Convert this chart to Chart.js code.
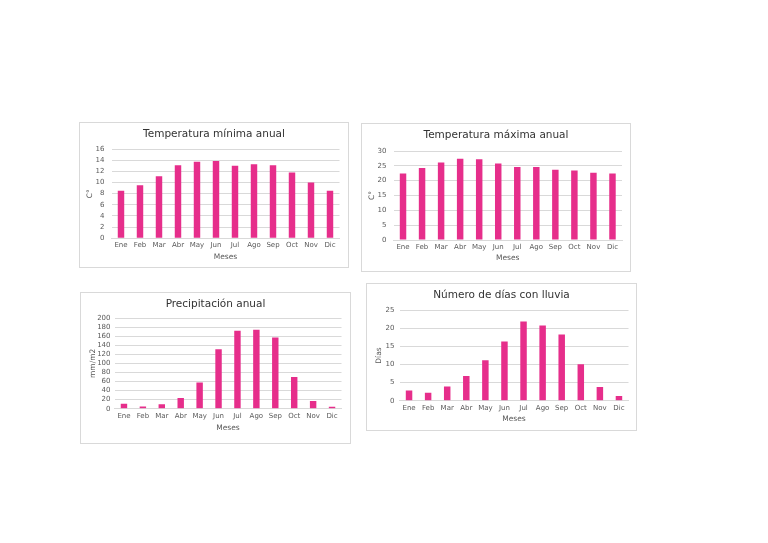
<!DOCTYPE html>
<html><head><meta charset="utf-8">
<script src="https://cdn.jsdelivr.net/npm/chart.js@4"></script>
<style>
html,body{margin:0;padding:0;background:#fff;width:768px;height:543px;overflow:hidden}
.box{position:absolute;border:1px solid #d9d9d9;background:#fff}
.box canvas{display:block}
</style></head><body>
<div class="box" id="b1"><canvas id="c1"></canvas></div>
<div class="box" id="b2"><canvas id="c2"></canvas></div>
<div class="box" id="b3"><canvas id="c3"></canvas></div>
<div class="box" id="b4"><canvas id="c4"></canvas></div>
<script>
// ---- data ----
const months = ['Ene','Feb','Mar','Abr','May','Jun','Jul','Ago','Sep','Oct','Nov','Dic'];
const tempMin = [8.5, 9.5, 11.1, 13.1, 13.7, 13.85, 13.0, 13.25, 13.1, 11.8, 10.0, 8.5];
const tempMax = [22.4, 24.3, 26.1, 27.4, 27.2, 25.8, 24.6, 24.6, 23.7, 23.4, 22.7, 22.4];
const precipitation = [11, 5, 10, 23.5, 58, 131, 172, 174, 157, 70, 17, 4.5];
const rainyDays = [2.8, 2.2, 3.9, 6.8, 11.2, 16.4, 21.9, 20.8, 18.3, 10.1, 3.8, 1.3];
const tempMinTicks = [0,2,4,6,8,10,12,14,16];
const tempMaxTicks = [0,5,10,15,20,25,30];
const precipTicks = [0,20,40,60,80,100,120,140,160,180,200];
const rainyTicks = [0,5,10,15,20,25];

// ---- styles ----
const FONT = '"DejaVu Sans", sans-serif';
const BAR = '#E62E8B';
const GRID = '#d9d9d9';
const TICK = '#595959';
const TITLE = '#333333';

function makeChart(cfg){
  const L = cfg.layout;
  const box = document.getElementById(cfg.box);
  Object.assign(box.style,{left:L.x+'px',top:L.y+'px',width:L.w+'px',height:L.h+'px'});
  const titleSize = 10.5, titleLH = 1.2;
  const tTop = L.titleCY - titleSize*titleLH/2;
  const tBottom = L.plotT - titleSize*titleLH - tTop;
  const axFont = 7.5, axLH = 1.2;
  const ticksArr = cfg.ticks;
  return new Chart(document.getElementById(cfg.canvas), {
    type:'bar',
    data:{labels:months, datasets:[{data:cfg.values, backgroundColor:BAR, borderWidth:0, barPercentage:0.34, categoryPercentage:1}]},
    options:{
      responsive:true, maintainAspectRatio:false, animation:false,
      layout:{padding:0},
      plugins:{
        legend:{display:false}, tooltip:{enabled:false},
        title:{display:true,text:cfg.title,color:TITLE,
          font:{family:FONT,size:titleSize,lineHeight:titleLH,weight:'normal'},
          padding:{top:tTop,bottom:tBottom}}
      },
      scales:{
        x:{
          grid:{display:false,drawTicks:false},
          border:{display:true,color:GRID},
          ticks:{color:TICK,font:{family:FONT,size:7},padding:3,maxRotation:0,autoSkip:false},
          title:{display:true,text:'Meses',color:TICK,
            font:{family:FONT,size:axFont,lineHeight:axLH},
            padding:{top:0,bottom:L.xTitleB - axFont*axLH/2}},
          afterFit:s=>{s.height=L.xH;}
        },
        y:{
          min:ticksArr[0], max:ticksArr[ticksArr.length-1],
          grid:{color:GRID,drawTicks:false},
          border:{display:false},
          afterBuildTicks:s=>{s.ticks = ticksArr.map(v=>({value:v}));},
          ticks:{autoSkip:false,stepSize:ticksArr[1]-ticksArr[0],color:TICK,font:{family:FONT,size:7},padding:L.tickPad},
          title:{display:true,text:cfg.yTitle,color:TICK,
            font:{family:FONT,size:axFont,lineHeight:axLH},
            padding:{top:L.yTitleCX - axFont*axLH/2,bottom:0}},
          afterFit:s=>{s.width=L.plotL;}
        },
        yRight:{
          position:'right', display:true,
          min:ticksArr[0], max:ticksArr[ticksArr.length-1],
          grid:{display:false,drawTicks:false},
          border:{display:false},
          ticks:{display:false},
          afterFit:s=>{s.width=L.padR;}
        }
      }
    }
  });
}

makeChart({box:'b1',canvas:'c1',title:'Temperatura mínima anual',yTitle:'C°',values:tempMin,ticks:tempMinTicks,
  layout:{x:79,y:122,w:268,h:144,plotL:31.5,padR:8.5,plotT:26,xH:28.7,titleCY:11.3,yTitleCX:9.7,xTitleB:10.3,tickPad:7}});
makeChart({box:'b2',canvas:'c2',title:'Temperatura máxima anual',yTitle:'C°',values:tempMax,ticks:tempMaxTicks,
  layout:{x:361,y:123,w:268,h:147,plotL:31.5,padR:8,plotT:27,xH:31,titleCY:11,yTitleCX:10,xTitleB:13,tickPad:7}});
makeChart({box:'b3',canvas:'c3',title:'Precipitación anual',yTitle:'mm/m2',values:precipitation,ticks:precipTicks,
  layout:{x:80,y:292,w:269,h:150,plotL:33.5,padR:8.5,plotT:25,xH:34.3,titleCY:11,yTitleCX:12,xTitleB:15,tickPad:4}});
makeChart({box:'b4',canvas:'c4',title:'Número de días con lluvia',yTitle:'Días',values:rainyDays,ticks:rainyTicks,
  layout:{x:366,y:283,w:269,h:146,plotL:32.5,padR:7.5,plotT:26.3,xH:29.3,titleCY:11,yTitleCX:12,xTitleB:11,tickPad:5}});
</script>
</body></html>
